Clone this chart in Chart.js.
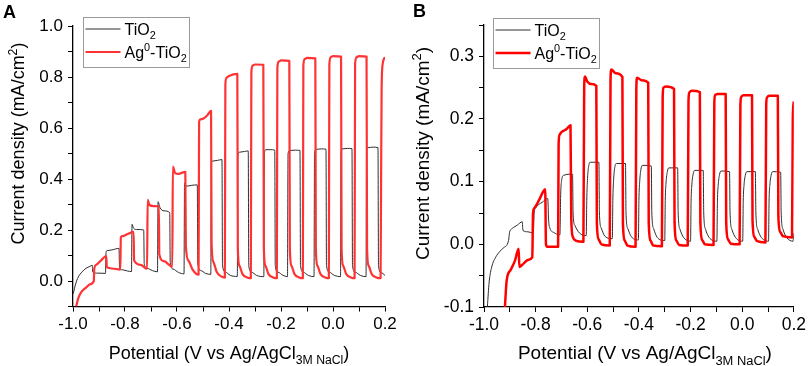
<!DOCTYPE html>
<html>
<head>
<meta charset="utf-8">
<script src="https://cdn.jsdelivr.net/npm/chart.js@4.4.1/dist/chart.umd.min.js"></script>
<style>
  body { margin: 0; background: #fff; }
  .panel { position: absolute; top: 0; }
</style>
</head>
<body>
<div class="panel" style="left:0"><canvas id="chartA" width="400" height="366"></canvas></div>
<div class="panel" style="left:405px"><canvas id="chartB" width="404" height="366"></canvas></div>
<script>
// Tick labels (ticks are drawn every step, labels only at these values)
const xLabels = [-1.0, -0.8, -0.6, -0.4, -0.2, 0.0, 0.2];
const yLabelsA = [0.0, 0.2, 0.4, 0.6, 0.8, 1.0];
const yLabelsB = [-0.1, 0.0, 0.1, 0.2, 0.3];

// Panel A: chopped-light sweep, [potential V, current density mA/cm2]
const tio2A = [
  [-0.999,-0.05],[-0.99,-0.012],[-0.98,0.015],[-0.965,0.036],[-0.95,0.05],[-0.935,0.057],[-0.926,0.062],
  [-0.924,0.035],[-0.91,0.031],[-0.875,0.030],
  [-0.873,0.112],[-0.869,0.119],[-0.85,0.122],[-0.823,0.128],
  [-0.821,0.052],[-0.81,0.044],[-0.79,0.039],[-0.775,0.037],
  [-0.773,0.222],[-0.767,0.207],[-0.755,0.202],[-0.728,0.2],
  [-0.726,0.066],[-0.715,0.05],[-0.695,0.041],[-0.675,0.036],
  [-0.673,0.311],[-0.665,0.287],[-0.65,0.275],[-0.628,0.268],
  [-0.626,0.072],[-0.615,0.047],[-0.595,0.034],[-0.573,0.028],
  [-0.571,0.383],[-0.563,0.372],[-0.545,0.375],[-0.522,0.377],
  [-0.52,0.07],[-0.51,0.042],[-0.49,0.03],[-0.47,0.026],
  [-0.468,0.458],[-0.464,0.47],[-0.445,0.473],[-0.427,0.476],
  [-0.425,0.062],[-0.415,0.036],[-0.395,0.022],[-0.368,0.018],
  [-0.366,0.49],[-0.36,0.505],[-0.34,0.508],[-0.326,0.51],
  [-0.324,0.06],[-0.314,0.035],[-0.294,0.022],[-0.266,0.017],
  [-0.264,0.5],[-0.258,0.515],[-0.24,0.515],[-0.224,0.513],
  [-0.222,0.06],[-0.212,0.035],[-0.192,0.022],[-0.175,0.017],
  [-0.173,0.498],[-0.167,0.512],[-0.145,0.513],[-0.127,0.512],
  [-0.125,0.06],[-0.115,0.035],[-0.095,0.022],[-0.073,0.017],
  [-0.071,0.502],[-0.065,0.516],[-0.045,0.518],[-0.027,0.517],
  [-0.025,0.06],[-0.015,0.035],[0.005,0.022],[0.029,0.017],
  [0.031,0.505],[0.037,0.518],[0.055,0.52],[0.073,0.519],
  [0.075,0.06],[0.085,0.035],[0.105,0.022],[0.127,0.017],
  [0.129,0.51],[0.135,0.523],[0.155,0.525],[0.173,0.523],
  [0.175,0.06],[0.185,0.033],[0.2,0.022]
];
const agA = [
  [-0.988,-0.1],[-0.98,-0.068],[-0.967,-0.042],[-0.95,-0.026],[-0.935,-0.013],[-0.92,0.0],
  [-0.918,0.05],[-0.91,0.064],[-0.89,0.083],[-0.872,0.098],
  [-0.87,0.054],[-0.85,0.049],[-0.818,0.045],
  [-0.816,0.17],[-0.81,0.176],[-0.79,0.184],[-0.767,0.193],
  [-0.765,0.08],[-0.74,0.063],[-0.715,0.048],
  [-0.713,0.318],[-0.706,0.298],[-0.69,0.294],[-0.67,0.293],
  [-0.668,0.104],[-0.65,0.078],[-0.618,0.056],
  [-0.616,0.449],[-0.607,0.423],[-0.595,0.42],[-0.568,0.428],
  [-0.566,0.14],[-0.556,0.08],[-0.54,0.045],[-0.517,0.025],
  [-0.515,0.625],[-0.51,0.634],[-0.5,0.636],[-0.485,0.648],[-0.469,0.667],
  [-0.467,0.15],[-0.46,0.075],[-0.447,0.035],[-0.43,0.018],[-0.416,0.013],
  [-0.414,0.77],[-0.41,0.797],[-0.4,0.804],[-0.368,0.812],
  [-0.366,0.13],[-0.36,0.06],[-0.348,0.027],[-0.33,0.014],[-0.316,0.011],
  [-0.314,0.82],[-0.309,0.845],[-0.3,0.849],[-0.268,0.848],
  [-0.266,0.13],[-0.26,0.06],[-0.248,0.027],[-0.23,0.014],[-0.216,0.011],
  [-0.214,0.835],[-0.209,0.86],[-0.2,0.865],[-0.168,0.863],
  [-0.166,0.13],[-0.16,0.06],[-0.148,0.027],[-0.13,0.014],[-0.116,0.011],
  [-0.114,0.845],[-0.109,0.87],[-0.1,0.875],[-0.068,0.873],
  [-0.066,0.13],[-0.06,0.06],[-0.048,0.027],[-0.03,0.014],[-0.016,0.011],
  [-0.014,0.85],[-0.009,0.877],[0.0,0.882],[0.031,0.88],
  [0.033,0.13],[0.039,0.06],[0.051,0.027],[0.069,0.014],[0.083,0.011],
  [0.085,0.85],[0.09,0.877],[0.1,0.882],[0.129,0.88],
  [0.131,0.13],[0.137,0.06],[0.149,0.027],[0.167,0.014],[0.183,0.011],
  [0.185,0.4],[0.187,0.75],[0.191,0.85],[0.2,0.878]
];

// Panel B
const tio2B = [
  [-0.987,-0.1],[-0.98,-0.06],[-0.97,-0.036],[-0.954,-0.02],[-0.94,-0.012],[-0.926,-0.006],[-0.905,0.006],
  [-0.901,0.019],[-0.895,0.024],[-0.885,0.027],[-0.87,0.031],[-0.852,0.036],
  [-0.849,0.022],[-0.83,0.02],[-0.809,0.018],
  [-0.806,0.05],[-0.8,0.058],[-0.79,0.063],[-0.775,0.067],[-0.753,0.073],
  [-0.75,0.04],[-0.745,0.026],[-0.73,0.019],[-0.706,0.015],
  [-0.703,0.08],[-0.699,0.103],[-0.692,0.11],[-0.657,0.112],
  [-0.655,0.05],[-0.648,0.03],[-0.63,0.018],[-0.604,0.014],
  [-0.602,0.07],[-0.599,0.105],[-0.594,0.126],[-0.588,0.131],[-0.555,0.131],
  [-0.553,0.05],[-0.546,0.026],[-0.532,0.013],[-0.503,0.009],
  [-0.501,0.07],[-0.498,0.103],[-0.493,0.124],[-0.487,0.129],[-0.452,0.129],
  [-0.45,0.05],[-0.443,0.025],[-0.429,0.012],[-0.402,0.007],
  [-0.4,0.07],[-0.397,0.1],[-0.392,0.12],[-0.386,0.126],[-0.352,0.125],
  [-0.35,0.05],[-0.343,0.025],[-0.329,0.011],[-0.3,0.006],
  [-0.298,0.07],[-0.295,0.098],[-0.29,0.116],[-0.284,0.122],[-0.25,0.122],
  [-0.248,0.05],[-0.241,0.024],[-0.227,0.011],[-0.2,0.005],
  [-0.198,0.068],[-0.195,0.095],[-0.19,0.112],[-0.184,0.118],[-0.151,0.118],
  [-0.149,0.05],[-0.142,0.024],[-0.128,0.011],[-0.098,0.005],
  [-0.096,0.068],[-0.093,0.094],[-0.088,0.111],[-0.082,0.117],[-0.049,0.116],
  [-0.047,0.05],[-0.04,0.024],[-0.026,0.011],[0.002,0.005],
  [0.004,0.068],[0.007,0.094],[0.012,0.11],[0.018,0.116],[0.051,0.116],
  [0.053,0.05],[0.06,0.024],[0.074,0.011],[0.102,0.005],
  [0.104,0.068],[0.107,0.094],[0.112,0.11],[0.118,0.116],[0.149,0.115],
  [0.151,0.05],[0.158,0.024],[0.172,0.011],[0.197,0.005],[0.2,0.018]
];
const agB = [
  [-0.919,-0.1],[-0.912,-0.057],[-0.897,-0.041],[-0.88,-0.026],[-0.866,-0.007],
  [-0.863,-0.036],[-0.845,-0.03],[-0.83,-0.025],[-0.813,-0.021],
  [-0.81,0.05],[-0.805,0.058],[-0.785,0.072],[-0.763,0.088],
  [-0.76,0.0],[-0.755,-0.004],[-0.713,-0.004],
  [-0.711,0.16],[-0.707,0.175],[-0.7,0.179],[-0.68,0.184],[-0.665,0.19],
  [-0.662,0.04],[-0.656,0.012],[-0.645,0.006],[-0.615,0.004],
  [-0.612,0.25],[-0.609,0.268],[-0.6,0.26],[-0.585,0.256],[-0.565,0.253],
  [-0.563,0.035],[-0.556,0.008],[-0.545,0.0],[-0.513,-0.002],
  [-0.51,0.26],[-0.507,0.279],[-0.49,0.273],[-0.464,0.267],
  [-0.462,0.035],[-0.455,0.006],[-0.444,-0.002],[-0.413,-0.004],
  [-0.41,0.25],[-0.407,0.266],[-0.39,0.262],[-0.364,0.258],
  [-0.362,0.035],[-0.355,0.006],[-0.344,-0.002],[-0.311,-0.003],
  [-0.308,0.235],[-0.305,0.25],[-0.295,0.252],[-0.264,0.248],
  [-0.262,0.035],[-0.255,0.006],[-0.244,-0.001],[-0.211,-0.002],
  [-0.208,0.228],[-0.205,0.242],[-0.195,0.245],[-0.164,0.243],
  [-0.162,0.035],[-0.155,0.007],[-0.144,0.0],[-0.111,-0.001],
  [-0.108,0.225],[-0.105,0.238],[-0.095,0.24],[-0.064,0.24],
  [-0.062,0.035],[-0.055,0.008],[-0.044,0.001],[-0.01,0.0],
  [-0.007,0.222],[-0.004,0.235],[0.005,0.238],[0.038,0.238],
  [0.04,0.038],[0.047,0.012],[0.058,0.005],[0.09,0.003],
  [0.093,0.222],[0.096,0.234],[0.105,0.237],[0.138,0.237],
  [0.14,0.045],[0.147,0.02],[0.158,0.013],[0.193,0.011],
  [0.196,0.2],[0.2,0.228]
];

const FONT = 'Arial, "Liberation Sans", Helvetica, sans-serif';
Chart.defaults.font.family = FONT;
Chart.defaults.color = '#000';

// rich text pieces (sub/superscripts)
const legendText = [
  [{t: 'TiO'}, {t: '2', sub: true}],
  [{t: 'Ag'}, {t: '0', sup: true}, {t: '-TiO'}, {t: '2', sub: true}]
];
const xTitle = [{t: 'Potential (V vs Ag/AgCl'}, {t: '3M NaCl', sub: true}, {t: ')'}];
const yTitle = [{t: 'Current density (mA/cm'}, {t: '2', sup: true}, {t: ')'}];

function richWidth(ctx, parts, size) {
    let w = 0;
    parts.forEach(p => {
        ctx.font = ((p.sub || p.sup) ? size * 0.68 : size) + 'px ' + FONT;
        w += ctx.measureText(p.t).width;
    });
    return w;
}

function drawRich(ctx, parts, x, y, size) {
    parts.forEach(p => {
        ctx.font = ((p.sub || p.sup) ? size * 0.68 : size) + 'px ' + FONT;
        const dy = p.sub ? size * 0.3 : (p.sup ? -size * 0.38 : 0);
        ctx.fillText(p.t, x, y + dy);
        x += ctx.measureText(p.t).width;
    });
}

// draws panel letter, axis titles and the framed legend
const decor = {
    id: 'decor',
    afterDraw(chart, args, o) {
        const ctx = chart.ctx;
        const a = chart.chartArea;
        ctx.save();
        ctx.fillStyle = '#000';
        ctx.textBaseline = 'alphabetic';
        ctx.textAlign = 'left';

        ctx.font = 'bold 18px ' + FONT;
        ctx.fillText(o.letter, o.letterX, o.letterY);

        const ts = o.titleSize;
        const xw = richWidth(ctx, xTitle, ts);
        drawRich(ctx, xTitle, (a.left + a.right) / 2 - xw / 2 + o.xShift, 359, ts);

        ctx.save();
        ctx.translate(o.yTitleX, o.yTitleMid);
        ctx.rotate(-Math.PI / 2);
        const yw = richWidth(ctx, yTitle, ts);
        drawRich(ctx, yTitle, -yw / 2, 0, ts);
        ctx.restore();

        const bx = Math.round(a.left + o.legendDx) + 0.5;
        const by = Math.round(a.top + o.legendDy) + 0.5;
        ctx.strokeStyle = '#9a9a9a';
        ctx.lineWidth = 1;
        ctx.strokeRect(bx, by, 106, 50);
        chart.data.datasets.forEach((ds, i) => {
            const ly = by + 11.5 + i * 23;
            ctx.strokeStyle = ds.borderColor;
            ctx.lineWidth = ds.borderWidth;
            ctx.beginPath();
            ctx.moveTo(bx + 2, ly);
            ctx.lineTo(bx + 37, ly);
            ctx.stroke();
            drawRich(ctx, legendText[i], bx + 41, ly + 5.5, 16);
        });
        ctx.restore();
    }
};

function toXY(pts) {
    return pts.map(p => ({x: p[0], y: p[1]}));
}

function labelled(v, list) {
    const hit = list.find(t => Math.abs(t - v) < 1e-6);
    return hit === undefined ? '' : hit.toFixed(1);
}

function makeChart(id, black, red, p) {
    return new Chart(document.getElementById(id), {
        type: 'line',
        data: {
            datasets: [
                { label: 'TiO2', data: toXY(black), borderColor: '#2e2e2e', borderWidth: 1, order: 2 },
                { label: 'Ag0-TiO2', data: toXY(red), borderColor: p.red, borderWidth: p.redWidth, order: 1 }
            ]
        },
        options: {
            responsive: false,
            animation: false,
            events: [],
            elements: {
                point: { radius: 0 },
                line: { cubicInterpolationMode: 'monotone', fill: false, borderJoinStyle: 'round' }
            },
            layout: { padding: { top: p.top, right: p.right, left: 0, bottom: 0 } },
            plugins: {
                legend: { display: false },
                tooltip: { enabled: false },
                decor: p.decor
            },
            scales: {
                x: {
                    type: 'linear', min: -1.0, max: 0.2,
                    afterFit: s => { s.height = p.xAxisH; },
                    ticks: { stepSize: 0.1, autoSkip: false, maxRotation: 0, padding: 3,
                             font: { size: p.tickSize }, callback: v => labelled(v, xLabels) },
                    grid: { drawOnChartArea: false, drawTicks: true, tickLength: 5, color: '#000' },
                    border: { color: '#000', width: 1.3 }
                },
                y: {
                    type: 'linear', min: p.ymin, max: p.ymax,
                    afterFit: s => { s.width = p.yAxisW; },
                    ticks: { stepSize: p.ystep, autoSkip: false, padding: 5,
                             font: { size: p.tickSize }, callback: v => labelled(v, p.yLabels) },
                    grid: { drawOnChartArea: false, drawTicks: true, tickLength: 5, color: '#000' },
                    border: { color: '#000', width: 1.3 }
                }
            }
        },
        plugins: [decor]
    });
}

makeChart('chartA', tio2A, agA, {
    red: '#ff3333', redWidth: 2.2, tickSize: 17,
    ymin: -0.1, ymax: 1.0, ystep: 0.1, yLabels: yLabelsA,
    top: 26, right: 15, xAxisH: 59.5, yAxisW: 73,
    decor: { letter: 'A', letterX: 3, letterY: 18, titleSize: 18, xShift: 0, yTitleX: 24, yTitleMid: 143.5,
             legendDx: 9.7, legendDy: -8.7 }
});

makeChart('chartB', tio2B, agB, {
    red: '#ff0000', redWidth: 2.5, tickSize: 17.5,
    ymin: -0.1, ymax: 0.35, ystep: 0.05, yLabels: yLabelsB,
    top: 25, right: 13, xAxisH: 59, yAxisW: 79,
    decor: { letter: 'B', letterX: 8, letterY: 17, titleSize: 19, xShift: 6, yTitleX: 23.5, yTitleMid: 153.5,
             legendDx: 9.3, legendDy: -6.7 }
});
</script>
</body>
</html>
